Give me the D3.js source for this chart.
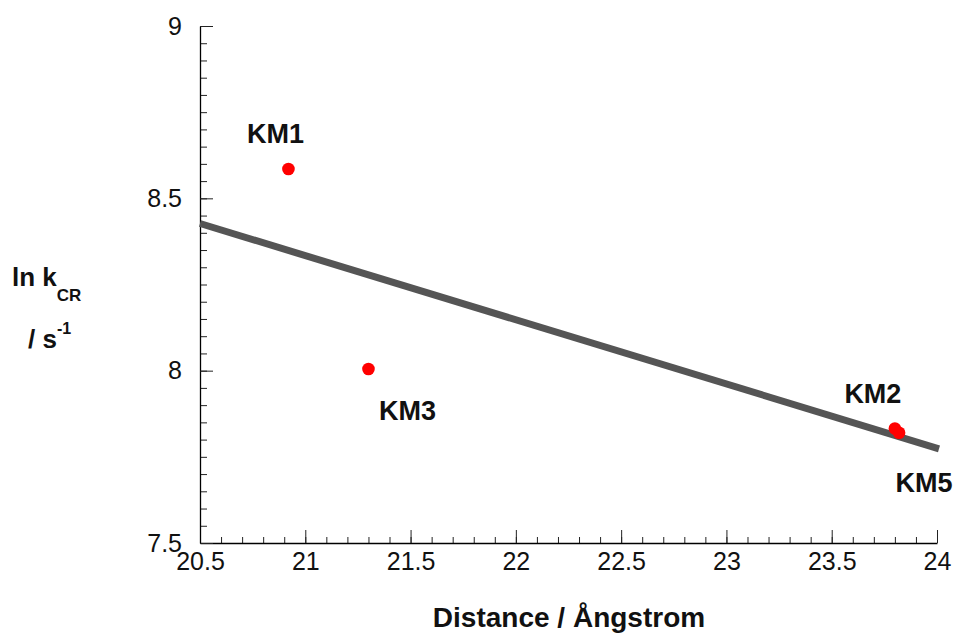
<!DOCTYPE html>
<html>
<head>
<meta charset="utf-8">
<script src="https://cdn.jsdelivr.net/npm/d3@7"></script>
<style>
  body { margin: 0; background: #fff; }
  svg { font-family: "Liberation Sans", Arial, Helvetica, sans-serif; }
</style>
</head>
<body>
<svg id="chart" width="958" height="635"></svg>
<script>
// data
var names = ["KM1", "KM3", "KM2", "KM5"];
var distance = [20.92, 21.30, 23.80, 23.82];
var lnk = [8.585, 8.005, 7.832, 7.820];
// straight-line fit drawn across the whole axis
var fitX = [20.5, 24];
var fitY = [8.427, 7.775];
var xTicks = [20.5, 21, 21.5, 22, 22.5, 23, 23.5, 24];
var yTicks = [7.5, 8, 8.5, 9];

var svg = d3.select("#chart");
var plotL = 200, plotR = 937, plotT = 26, plotB = 543;

var x = d3.scaleLinear().domain([20.5, 24]).range([plotL, plotR]);
var y = d3.scaleLinear().domain([7.5, 9]).range([plotB, plotT]);

// minor ticks first, major on top
var xMinor = d3.range(205, 241).map(function (d) { return d / 10; });
var yMinor = d3.range(150, 181).map(function (d) { return d / 20; });

svg.append("g")
  .attr("transform", "translate(0," + plotB + ")")
  .call(d3.axisBottom(x).tickValues(xMinor).tickSize(-6).tickFormat(""))
  .call(function (g) { g.select(".domain").remove(); });
svg.append("g")
  .attr("transform", "translate(" + plotL + ",0)")
  .call(d3.axisLeft(y).tickValues(yMinor).tickSize(-7).tickFormat(""))
  .call(function (g) { g.select(".domain").remove(); });

var xAxis = svg.append("g")
  .attr("transform", "translate(0," + plotB + ")")
  .call(d3.axisBottom(x).tickValues(xTicks).tickSizeInner(-13).tickSizeOuter(0)
    .tickPadding(9).tickFormat(function (d) { return d; }));
var yAxis = svg.append("g")
  .attr("transform", "translate(" + plotL + ",0)")
  .call(d3.axisLeft(y).tickValues(yTicks).tickSizeInner(-13).tickSizeOuter(0)
    .tickPadding(18).tickFormat(function (d) { return d; }));

svg.selectAll(".tick line").attr("stroke", "#222");
[xAxis, yAxis].forEach(function (g) {
  g.select(".domain").attr("stroke", "#000").attr("stroke-width", 1.3);
  g.selectAll("text").attr("font-size", 25).attr("fill", "#111")
    .attr("font-family", "Liberation Sans, Arial, sans-serif");
});

// fit line
svg.append("line")
  .attr("x1", x(fitX[0])).attr("y1", y(fitY[0]))
  .attr("x2", x(fitX[1]) + 2).attr("y2", y(fitY[1]) + 0.6)
  .attr("stroke", "#555").attr("stroke-width", 7);

// points
var pts = names.map(function (n, i) { return { name: n, d: distance[i], v: lnk[i] }; });
svg.selectAll("circle.pt").data(pts).enter().append("circle")
  .attr("class", "pt")
  .attr("cx", function (d) { return x(d.d); })
  .attr("cy", function (d) { return y(d.v); })
  .attr("r", 6.3)
  .attr("fill", "#ff0000");

// point labels
var labelOffset = {
  KM1: [-13, -26],
  KM3: [39, 51],
  KM2: [-22, -26],
  KM5: [25, 59]
};
svg.selectAll("text.lab").data(pts).enter().append("text")
  .attr("class", "lab")
  .attr("x", function (d) { return x(d.d) + labelOffset[d.name][0]; })
  .attr("y", function (d) { return y(d.v) + labelOffset[d.name][1]; })
  .attr("text-anchor", "middle")
  .attr("font-size", 27)
  .attr("font-weight", "bold")
  .attr("fill", "#111")
  .text(function (d) { return d.name; });

// axis titles
svg.append("text")
  .attr("x", 569).attr("y", 627)
  .attr("text-anchor", "middle")
  .attr("font-size", 28).attr("font-weight", "bold").attr("fill", "#111")
  .text("Distance / Ångstrom");

var t1 = svg.append("text").attr("x", 12).attr("y", 286)
  .attr("font-size", 26).attr("font-weight", "bold").attr("fill", "#111");
t1.append("tspan").text("ln k");
t1.append("tspan").attr("dy", 15).attr("font-size", 17).text("CR");

var t2 = svg.append("text").attr("x", 28).attr("y", 348)
  .attr("font-size", 26).attr("font-weight", "bold").attr("fill", "#111");
t2.append("tspan").text("/ s");
t2.append("tspan").attr("dy", -14).attr("font-size", 16).text("-1");
</script>
</body>
</html>
